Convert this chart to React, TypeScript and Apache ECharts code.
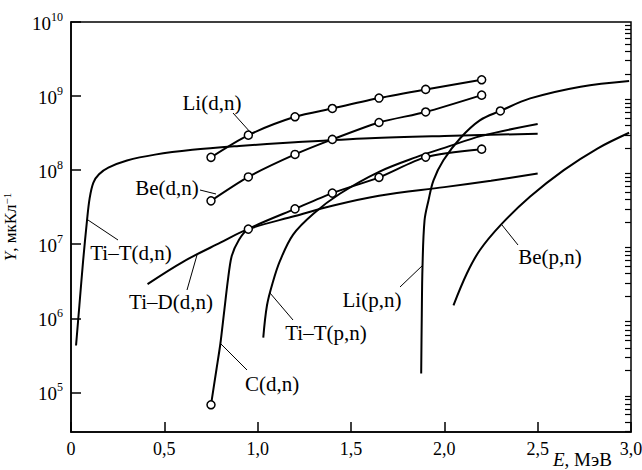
import React, { useEffect, useRef } from "react";
import * as echarts from "echarts";

const FONT = "Liberation Serif";

// Axis ticks
const xTicks = [0, 0.5, 1, 1.5, 2, 2.5, 3];
const yDecades = [5, 6, 7, 8, 9, 10];
const yMinorMultipliers = [2, 3, 4, 5, 6, 7, 8, 9];
const yMinValue = 2.92e4;
const yMaxValue = 1e10;

// Li(d,n)
const liDnE = [0.75, 0.95, 1.2, 1.4, 1.65, 1.9, 2.2];
const liDnY = [1.49e8, 2.97e8, 5.25e8, 6.8e8, 9.4e8, 1.23e9, 1.66e9];
const liDnMarks = [0, 1, 2, 3, 4, 5, 6];

// Be(d,n)
const beDnE = [0.75, 0.95, 1.2, 1.4, 1.65, 1.9, 2.2];
const beDnY = [3.85e7, 8.1e7, 1.63e8, 2.6e8, 4.4e8, 6.1e8, 1.03e9];
const beDnMarks = [0, 1, 2, 3, 4, 5, 6];

// C(d,n)
const cDnE = [0.75, 0.78, 0.8, 0.82, 0.84, 0.86, 0.9, 0.95, 1.2, 1.4, 1.65, 1.9, 2.2];
const cDnY = [6.8e4, 2.1e5, 4.5e5, 1.2e6, 3.2e6, 6.8e6, 1.15e7, 1.6e7, 3.0e7, 4.9e7, 8.0e7, 1.5e8, 1.92e8];
const cDnMarks = [0, 7, 8, 9, 10, 11, 12];

// Ti–T(d,n)
const tiTdnE = [0.027, 0.045, 0.065, 0.085, 0.1, 0.12, 0.15, 0.2, 0.3, 0.45, 0.65, 0.9, 1.2, 1.6, 2.0, 2.5];
const tiTdnY = [4.3e5, 1.5e6, 6e6, 2e7, 4.2e7, 6.8e7, 8.8e7, 1.08e8, 1.35e8, 1.62e8, 1.88e8, 2.12e8, 2.38e8, 2.7e8, 2.9e8, 3.1e8];

// Ti–D(d,n)
const tiDdnE = [0.41, 0.6, 0.8, 0.95, 1.2, 1.4, 1.65, 2.0, 2.25, 2.5];
const tiDdnY = [2.9e6, 5.8e6, 1.05e7, 1.6e7, 2.4e7, 3.3e7, 4.5e7, 5.9e7, 7.2e7, 9e7];

// Ti–T(p,n)
const tiTpnE = [1.03, 1.05, 1.08, 1.12, 1.19, 1.3, 1.44, 1.65, 1.85, 2.0, 2.2, 2.5];
const tiTpnY = [5.5e5, 1.5e6, 3e6, 6e6, 1.35e7, 2.6e7, 4.8e7, 9.5e7, 1.5e8, 2.0e8, 2.9e8, 4.2e8];

// Li(p,n)
const liPnE = [1.876, 1.879, 1.883, 1.894, 1.915, 1.942, 1.995, 2.085, 2.19, 2.3, 2.46, 2.73, 2.99];
const liPnY = [1.8e5, 1e6, 4.9e6, 2.1e7, 3.9e7, 7.3e7, 1.36e8, 2.7e8, 4.7e8, 6.3e8, 9.3e8, 1.34e9, 1.6e9];
const liPnMarks = [9];

// Be(p,n)
const bePnE = [2.049, 2.12, 2.19, 2.3, 2.46, 2.64, 2.82, 2.99];
const bePnY = [1.5e6, 4e6, 8.3e6, 1.8e7, 4.4e7, 1e8, 1.96e8, 3.2e8];

const labels = [
  { text: "Li(d,n)", x: 212, y: 103, lx1: 233, ly1: 113, lx2: 251, ly2: 133 },
  { text: "Be(d,n)", x: 167, y: 188, lx1: 200, ly1: 190, lx2: 216, ly2: 194 },
  { text: "Ti–T(d,n)", x: 131, y: 253, lx1: 118, ly1: 240, lx2: 88, ly2: 220 },
  { text: "Ti–D(d,n)", x: 171, y: 302, lx1: 187, ly1: 290, lx2: 197, ly2: 255 },
  { text: "C(d,n)", x: 272, y: 384, lx1: 247, ly1: 370, lx2: 220, ly2: 343 },
  { text: "Ti–T(p,n)", x: 326, y: 333, lx1: 293, ly1: 320, lx2: 270, ly2: 293 },
  { text: "Li(p,n)", x: 372, y: 300, lx1: 400, ly1: 287, lx2: 423, ly2: 265 },
  { text: "Be(p,n)", x: 550, y: 257, lx1: 518, ly1: 245, lx2: 502, ly2: 225 },
];

function curve(name: string, es: number[], ys: number[], marks: number[] = [], smooth = 0.3) {
  return {
    type: "line",
    name,
    smooth,
    silent: true,
    showSymbol: marks.length > 0,
    showAllSymbol: true,
    symbol: "circle",
    symbolSize: 8,
    lineStyle: { color: "#000", width: 2 },
    itemStyle: { color: "#fff", borderColor: "#000", borderWidth: 1.5 },
    emphasis: { disabled: true },
    data: es.map((e, i) => {
      const v = [e, Math.log10(ys[i])];
      return marks.includes(i) ? { value: v } : { value: v, symbol: "none" };
    }),
  };
}

export default function App() {
  const ref = useRef<HTMLDivElement>(null);
  useEffect(() => {
    if (!ref.current) return;
    const chart = echarts.init(ref.current, null, { renderer: "svg" });
    const minorTicks: number[] = [];
    for (let d = 4; d < 10; d++) {
      for (const m of yMinorMultipliers) {
        const v = Math.log10(m * Math.pow(10, d));
        if (v >= Math.log10(yMinValue) && v < 10) minorTicks.push(v);
      }
    }
    const yMin = Math.log10(yMinValue);
    const yMax = Math.log10(yMaxValue);
    const axisLineStyle = { color: "#000", width: 1.5 };
    const option: any = {
      animation: false,
      textStyle: { fontFamily: FONT },
      grid: {
        left: 71,
        right: 11,
        top: 22,
        bottom: 38,
        show: true,
        borderColor: "#000",
        borderWidth: 1.5,
        outerBoundsMode: "none",
      },
      xAxis: {
        type: "value",
        min: 0,
        max: 3,
        interval: 0.5,
        axisLine: { lineStyle: axisLineStyle },
        axisTick: { inside: true, length: 10, lineStyle: { color: "#000", width: 1.5 }, customValues: xTicks },
        axisLabel: {
          customValues: xTicks,
          margin: 8,
          fontFamily: FONT,
          fontSize: 18,
          color: "#000",
          formatter: (v: number) => (v === 0 ? "0" : v.toFixed(1).replace(".", ",")),
        },
        splitLine: { show: false },
      },
      yAxis: [
        {
          type: "value",
          min: yMin,
          max: yMax,
          axisLine: { lineStyle: axisLineStyle },
          axisTick: { inside: true, length: 10, lineStyle: { color: "#000", width: 1.5 }, customValues: yDecades },
          axisLabel: {
            customValues: yDecades,
            margin: 8,
            fontFamily: FONT,
            formatter: (v: number) => `{b|10}{s|${Math.round(v)}}`,
            rich: {
              b: { fontFamily: FONT, fontSize: 19, color: "#000", lineHeight: 22, verticalAlign: "bottom" },
              s: { fontFamily: FONT, fontSize: 12, color: "#000", lineHeight: 14, verticalAlign: "top" },
            },
          },
          splitLine: { show: false },
          name: "{i|Y}{n|, мкКл}{s|−1}",
          nameLocation: "middle",
          nameRotate: 90,
          nameGap: 52,
          nameTextStyle: {
            fontFamily: FONT,
            rich: {
              i: { fontFamily: FONT, fontSize: 17, fontStyle: "italic", color: "#000", lineHeight: 18, verticalAlign: "bottom" },
              n: { fontFamily: FONT, fontSize: 17, color: "#000", lineHeight: 18, verticalAlign: "bottom" },
              s: { fontFamily: FONT, fontSize: 11, color: "#000", lineHeight: 11, verticalAlign: "top" },
            },
          },
        },
        {
          type: "value",
          min: yMin,
          max: yMax,
          axisLine: { show: false },
          axisTick: { inside: true, length: 6, lineStyle: { color: "#000", width: 1.2 }, customValues: minorTicks },
          axisLabel: { show: false, customValues: minorTicks },
          splitLine: { show: false },
        },
      ],
      series: [
        curve("Ti–T(d,n)", tiTdnE, tiTdnY, [], 0.35),
        curve("Ti–D(d,n)", tiDdnE, tiDdnY, [], 0.35),
        curve("Ti–T(p,n)", tiTpnE, tiTpnY, [], 0.35),
        curve("Be(p,n)", bePnE, bePnY, [], 0.35),
        curve("Li(p,n)", liPnE, liPnY, liPnMarks, 0.35),
        curve("C(d,n)", cDnE, cDnY, cDnMarks, 0.25),
        curve("Be(d,n)", beDnE, beDnY, beDnMarks, 0.25),
        curve("Li(d,n)", liDnE, liDnY, liDnMarks, 0.25),
      ],
      graphic: [
        ...labels.map((l) => ({
          type: "text",
          x: l.x,
          y: l.y,
          z: 10,
          style: {
            text: l.text,
            fontFamily: FONT,
            fontSize: 21,
            fill: "#000",
            align: "center",
            verticalAlign: "middle",
          },
        })),
        ...labels.map((l) => ({
          type: "line",
          z: 10,
          shape: { x1: l.lx1, y1: l.ly1, x2: l.lx2, y2: l.ly2 },
          style: { stroke: "#000", lineWidth: 1 },
        })),
        {
          type: "text",
          x: 553,
          y: 450,
          style: {
            text: "{i|E}{n|, МэВ}",
            fontFamily: FONT,
            fontSize: 19,
            fill: "#000",
            rich: {
              i: { fontFamily: FONT, fontSize: 19, fontStyle: "italic", fill: "#000" },
              n: { fontFamily: FONT, fontSize: 19, fill: "#000" },
            },
          },
        },
      ],
    };
    chart.setOption(option);
    return () => chart.dispose();
  }, []);
  return (
    <div
      ref={ref}
      style={{ position: "fixed", left: 0, top: 0, width: 642, height: 470, background: "#fff" }}
    />
  );
}
